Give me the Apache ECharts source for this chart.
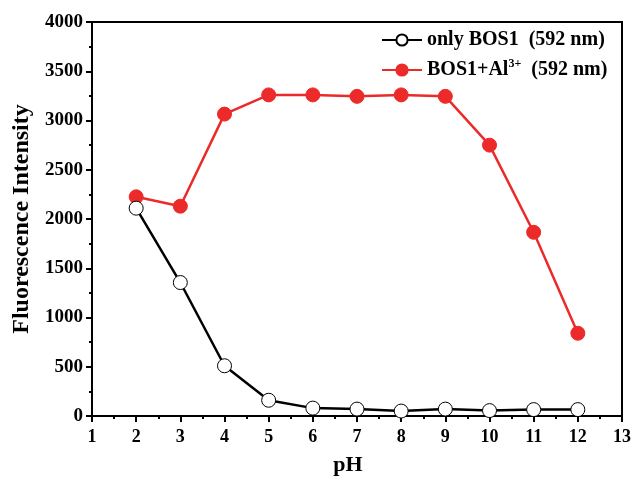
<!DOCTYPE html>
<html>
<head>
<meta charset="utf-8">
<script src="https://cdn.jsdelivr.net/npm/echarts@6/dist/echarts.min.js"></script>
<style>
  html, body { margin: 0; padding: 0; background: #fff; }
  #chart { width: 634px; height: 481px; }
</style>
</head>
<body>
<div id="chart"></div>
<script>
// pH values and fluorescence at 592 nm
var phValues = [2, 3, 4, 5, 6, 7, 8, 9, 10, 11, 12];
var onlyBos1 = [2110, 1355, 510, 160, 80, 70, 50, 70, 55, 65, 65];
var bos1Al = [2225, 2130, 3065, 3260, 3260, 3245, 3260, 3245, 2750, 1865, 840];
var seriesNames = ['only BOS1  (592 nm)', 'BOS1+Al3+  (592 nm)'];

var font = '"Liberation Serif", "Times New Roman", serif';

function pairs(ys) {
    return phValues.map(function (x, i) { return [x, ys[i]]; });
}

var chart = echarts.init(document.getElementById('chart'));
chart.setOption({
    animation: false,
    textStyle: {fontFamily: font, fontWeight: 'bold', color: '#000'},
    grid: {
        left: 92, top: 22, right: 11, bottom: 65,
        show: true, borderColor: '#000', borderWidth: 2
    },
    legend: {
        orient: 'vertical',
        left: 376,
        top: 25,
        itemWidth: 40,
        itemHeight: 14,
        itemGap: 8,
        textStyle: {
            fontFamily: font, fontWeight: 'bold', fontSize: 20, color: '#000',
            rich: {
                t: {fontFamily: font, fontWeight: 'bold', fontSize: 20, color: '#000'},
                sup: {fontFamily: font, fontWeight: 'bold', fontSize: 12, color: '#000', verticalAlign: 'top', padding: [0, 0, 12, 0]}
            }
        },
        formatter: function (name) {
            if (name === seriesNames[1]) {
                return '{t|BOS1+Al}{sup|3+}{t|  (592 nm)}';
            }
            return '{t|' + name + '}';
        },
        data: seriesNames
    },
    xAxis: {
        type: 'value',
        min: 1, max: 13, interval: 1,
        name: 'pH',
        nameLocation: 'middle',
        nameGap: 38,
        nameTextStyle: {fontFamily: font, fontWeight: 'bold', fontSize: 22, color: '#000', padding: [0, 18, 0, 0]},
        axisLine: {show: true, lineStyle: {color: '#000', width: 2}},
        axisTick: {show: true, inside: false, length: 6, lineStyle: {width: 2}},
        minorTick: {show: true, splitNumber: 2, length: 3, lineStyle: {color: '#000', width: 2}},
        splitLine: {show: false},
        axisLabel: {fontFamily: font, fontWeight: 'bold', fontSize: 18, color: '#000', margin: 12}
    },
    yAxis: {
        type: 'value',
        min: 0, max: 4000, interval: 500,
        name: 'Fluorescence Intensity',
        nameLocation: 'middle',
        nameGap: 58,
        nameTextStyle: {fontFamily: font, fontWeight: 'bold', fontSize: 24, color: '#000'},
        axisLine: {show: true, lineStyle: {color: '#000', width: 2}},
        axisTick: {show: true, inside: false, length: 6, lineStyle: {width: 2}},
        minorTick: {show: true, splitNumber: 2, length: 3, lineStyle: {color: '#000', width: 2}},
        splitLine: {show: false},
        axisLabel: {
            fontFamily: font, fontWeight: 'bold', fontSize: 19, color: '#000', margin: 9,
            formatter: function (v) { return String(v); }
        }
    },
    series: [
        {
            name: seriesNames[0],
            type: 'line',
            data: pairs(onlyBos1),
            symbol: 'circle',
            symbolSize: 14,
            z: 3,
            lineStyle: {color: '#000', width: 2.5},
            itemStyle: {color: '#fff', borderColor: '#000', borderWidth: 1}
        },
        {
            name: seriesNames[1],
            type: 'line',
            data: pairs(bos1Al),
            symbol: 'circle',
            symbolSize: 14,
            z: 2,
            lineStyle: {color: '#ec2a2a', width: 2.5},
            itemStyle: {color: '#ec2a2a', borderColor: '#ec2a2a', borderWidth: 1}
        }
    ]
});
</script>
</body>
</html>
